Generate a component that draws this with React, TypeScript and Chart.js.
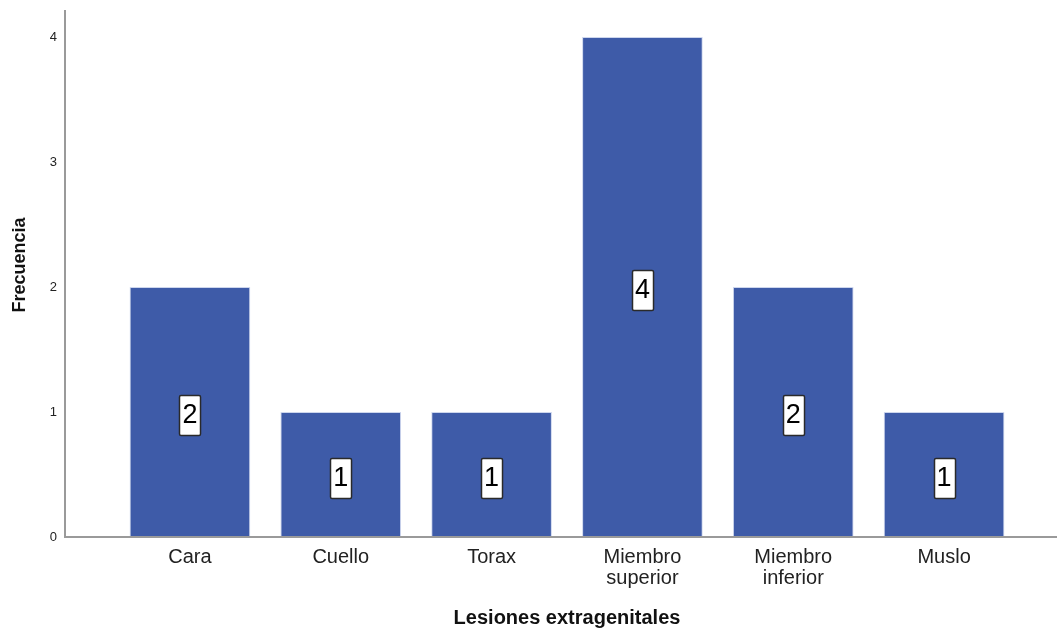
import React, { useEffect, useRef } from "react";
import { Chart, registerables } from "chart.js";

Chart.register(...registerables);

// Lesiones extragenitales: frecuencia por localización
const categories: (string | string[])[] = [
  "Cara",
  "Cuello",
  "Torax",
  ["Miembro", "superior"],
  ["Miembro", "inferior"],
  "Muslo",
];
const frequencies: number[] = [2, 1, 1, 4, 2, 1];
const yTicks: number[] = [0, 1, 2, 3, 4];

const xTitle = "Lesiones extragenitales";
const yTitle = "Frecuencia";

const FONT = "'Liberation Sans', Arial, Helvetica, sans-serif";
const BAR_COLOR = "#3e5ba8";
const AXIS_COLOR = "#9a9a9a";

// Axis lines, rotated y title and boxed value labels in the middle of each bar
const decorations = {
  id: "decorations",
  afterDatasetsDraw(chart: any) {
    const { ctx, chartArea } = chart;
    const yScale = chart.scales.y;
    ctx.save();

    // axis lines
    ctx.strokeStyle = AXIS_COLOR;
    ctx.lineWidth = 2;
    ctx.beginPath();
    ctx.moveTo(65, 10);
    ctx.lineTo(65, chartArea.bottom);
    ctx.lineTo(chart.width, chartArea.bottom);
    ctx.stroke();

    // y title
    ctx.save();
    ctx.translate(20.5, 265);
    ctx.rotate(-Math.PI / 2);
    ctx.fillStyle = "#111";
    ctx.font = `bold 18px ${FONT}`;
    ctx.textAlign = "center";
    ctx.textBaseline = "middle";
    ctx.fillText(yTitle, 0, 0);
    ctx.restore();

    // value labels
    const meta = chart.getDatasetMeta(0);
    ctx.font = `27px ${FONT}`;
    ctx.textAlign = "center";
    ctx.textBaseline = "middle";
    meta.data.forEach((bar: any, i: number) => {
      const v = frequencies[i];
      const cx = bar.x;
      const cy = (yScale.getPixelForValue(v) + yScale.getPixelForValue(0)) / 2 + 3;
      const text = String(v);
      const w = Math.max(21, ctx.measureText(text).width + 6);
      const h = 40;
      const x0 = Math.round(cx - w / 2) + 0.5;
      const y0 = Math.round(cy - h / 2) + 0.5;
      ctx.fillStyle = "#ffffff";
      ctx.strokeStyle = "#2a2a2a";
      ctx.lineWidth = 1.5;
      ctx.beginPath();
      ctx.roundRect(x0, y0, w, h, 1.5);
      ctx.fill();
      ctx.stroke();
      ctx.fillStyle = "#000";
      ctx.fillText(text, cx, cy + 1);
    });

    ctx.restore();
  },
};

export default function App() {
  const canvasRef = useRef<HTMLCanvasElement | null>(null);

  useEffect(() => {
    const canvas = canvasRef.current;
    if (!canvas) return;
    const chart = new Chart(canvas, {
      type: "bar",
      data: {
        labels: categories as any,
        datasets: [
          {
            data: frequencies,
            backgroundColor: BAR_COLOR,
            borderColor: "rgba(200, 210, 235, 0.9)",
            borderWidth: 1,
            categoryPercentage: 1,
            barPercentage: 0.8,
          },
        ],
      },
      options: {
        responsive: false,
        animation: false,
        layout: { padding: { top: 10, right: 37.5, left: 0, bottom: 0 } },
        plugins: {
          legend: { display: false },
          tooltip: { enabled: false },
        },
        scales: {
          x: {
            type: "category",
            offset: true,
            grid: { display: false, drawTicks: false },
            border: { display: false },
            ticks: {
              color: "#222",
              padding: 9.5,
              maxRotation: 0,
              autoSkip: false,
              font: { family: FONT, size: 20, lineHeight: 1.05 },
            },
            title: {
              display: true,
              text: xTitle,
              color: "#111",
              font: { family: FONT, size: 20, weight: "bold" },
              padding: { top: 0, bottom: 1 },
            },
            afterFit: (scale: any) => {
              scale.height = 94;
              scale.paddingLeft = 0;
              scale.paddingRight = 0;
            },
          },
          y: {
            type: "linear",
            min: 0,
            max: 4.216,
            grid: { display: false, drawTicks: false },
            border: { display: false },
            afterBuildTicks: (scale: any) => {
              scale.ticks = yTicks.map((v) => ({ value: v }));
            },
            ticks: {
              color: "#222",
              padding: 57.5,
              font: { family: FONT, size: 13 },
              callback: (v: any) => String(v),
            },
            afterFit: (scale: any) => {
              scale.width = 114.5;
              scale.paddingTop = 0;
              scale.paddingBottom = 0;
            },
          },
        },
      },
      plugins: [decorations],
    });
    return () => chart.destroy();
  }, []);

  return (
    <div style={{ position: "absolute", left: 0, top: 0, width: 1057, height: 631, background: "#fff" }}>
      <canvas ref={canvasRef} width={1057} height={631} style={{ display: "block", width: 1057, height: 631 }} />
    </div>
  );
}
